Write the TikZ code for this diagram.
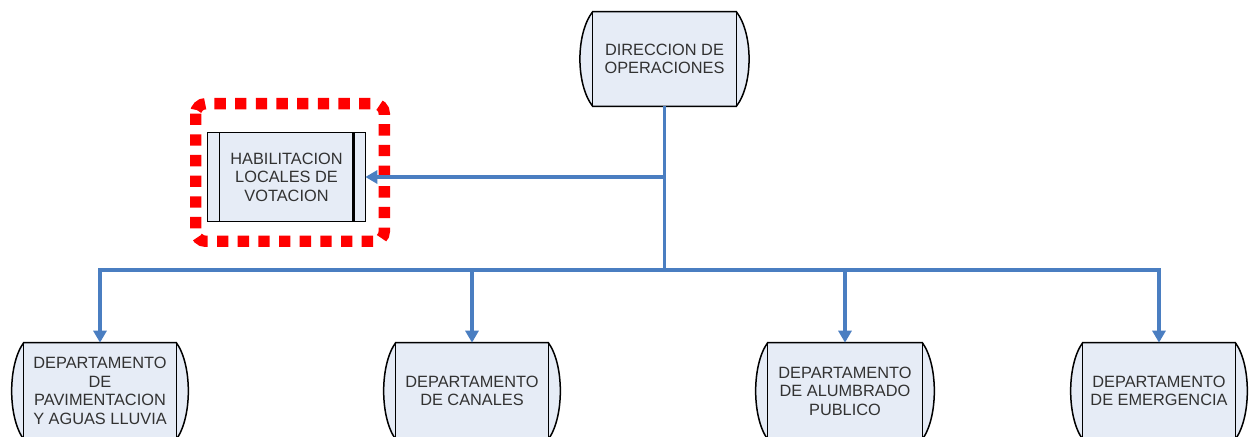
\documentclass[tikz,border=0pt]{standalone}
\usepackage{fontspec}
\setmainfont{Liberation Sans}
\usetikzlibrary{arrows.meta,calc}
\definecolor{connblue}{RGB}{74,126,193}
\definecolor{boxfill}{RGB}{230,236,246}
\definecolor{txtgray}{RGB}{50,50,50}
\definecolor{dotred}{RGB}{255,0,0}
\pgfdeclarelayer{bg}
\pgfsetlayers{bg,main}
\tikzset{
  boxtext/.style={draw=none, fill=none, inner sep=0pt, align=center, text=txtgray,
    font=\fontsize{9.8pt}{11.1pt}\selectfont},
  drumbox/.style={boxtext, minimum width=#1*0.6pt, minimum height=57.6pt},
  boxline/.style={draw=black, line width=0.9pt},
  conn/.style={draw=connblue, line width=2.1pt},
  arr/.style={conn, -{Triangle[width=7.8pt,length=7.2pt]}},
  reddots/.style={draw=dotred, line width=6.8pt, dash pattern=on 6.8pt off 5.6pt, rounded corners=6pt},
}
\newcommand\drumshape[2]{% node name, bulge
  \begin{pgfonlayer}{bg}
  \draw[boxline, fill=boxfill] (#1.north west) -- (#1.north east)
     .. controls ($(#1.north east)+(#2,22)$) and ($(#1.south east)+(#2,-22)$) .. (#1.south east)
     -- (#1.south west)
     .. controls ($(#1.south west)+(-#2,-22)$) and ($(#1.north west)+(-#2,22)$) .. cycle;
  \draw[boxline] (#1.north west) -- (#1.south west) (#1.north east) -- (#1.south east);
  \end{pgfonlayer}
}
\begin{document}
\begin{tikzpicture}[x=0.6pt, y=-0.6pt]
\useasboundingbox (0,0) rectangle (1250,437);
\clip (0,0) rectangle (1250,437);
\begin{pgfonlayer}{bg}
\fill[white] (0,0) rectangle (1250,437);
\end{pgfonlayer}

% nodes
\node[boxtext, minimum width=85.8pt, minimum height=56.4pt] (dir) at (664.5,59) {DIRECCION DE\\OPERACIONES};
\node[boxtext, minimum width=94.2pt, minimum height=52.8pt] (hab) at (286.5,177) {HABILITACION\\LOCALES DE\\VOTACION};
\node[drumbox=152] (pav) at (100,391) {DEPARTAMENTO\\DE\\PAVIMENTACION\\Y AGUAS LLUVIA};
\node[drumbox=152] (can) at (472,391) {DEPARTAMENTO\\DE CANALES};
\node[drumbox=154] (alu) at (845,391) {DEPARTAMENTO\\DE ALUMBRADO\\PUBLICO};
\node[drumbox=152] (eme) at (1159,391) {DEPARTAMENTO\\DE EMERGENCIA};

% shapes
\drumshape{dir}{17}
\drumshape{pav}{16}
\drumshape{can}{16}
\drumshape{alu}{16}
\drumshape{eme}{16}

\begin{pgfonlayer}{bg}
  \draw[boxline, fill=boxfill] (hab.north west) rectangle (hab.south east);
  \draw[boxline] ($(hab.north west)+(12,0)$) -- ($(hab.south west)+(12,0)$);
  \draw[draw=black, line width=1.6pt] ($(hab.north east)+(-12,0)$) -- ($(hab.south east)+(-12,0)$);
\end{pgfonlayer}

% red dotted frame
\draw[reddots] ($(hab.north west)+(-12,-29)$) rectangle ($(hab.south east)+(19,20)$);

% connectors
\coordinate (bus) at (dir.south |- 0,270);
\draw[conn] (dir.south) -- (bus);
\draw[arr] (dir.south |- hab.east) -- (hab.east);
\draw[arr] (bus) -| (pav.north);
\draw[arr] (bus) -| (eme.north);
\draw[arr] (can.north |- bus) -- (can.north);
\draw[arr] (alu.north |- bus) -- (alu.north);
\end{tikzpicture}
\end{document}
